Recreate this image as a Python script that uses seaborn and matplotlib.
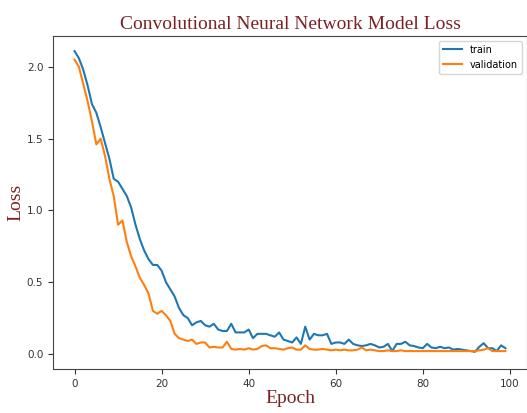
import numpy as np
import pandas as pd
import matplotlib
matplotlib.use("Agg")
import matplotlib.pyplot as plt
import seaborn as sns

train_loss = [
    2.11, 2.06, 1.98, 1.87, 1.74, 1.68, 1.58, 1.47, 1.36, 1.22,
    1.20, 1.15, 1.10, 1.02, 0.90, 0.80, 0.72, 0.66, 0.62, 0.62,
    0.58, 0.50, 0.45, 0.40, 0.32, 0.27, 0.25, 0.20, 0.22, 0.23,
    0.20, 0.19, 0.21, 0.17, 0.16, 0.16, 0.21, 0.15, 0.15, 0.15,
    0.17, 0.11, 0.14, 0.14, 0.14, 0.13, 0.12, 0.15, 0.10, 0.09,
    0.08, 0.115, 0.07, 0.19, 0.10, 0.14, 0.13, 0.13, 0.14, 0.07,
    0.08, 0.08, 0.07, 0.10, 0.07, 0.06, 0.055, 0.06, 0.07, 0.06,
    0.045, 0.05, 0.07, 0.02, 0.07, 0.07, 0.085, 0.06, 0.055, 0.045,
    0.04, 0.07, 0.045, 0.04, 0.05, 0.04, 0.045, 0.03, 0.035, 0.03,
    0.025, 0.02, 0.015, 0.05, 0.075, 0.04, 0.04, 0.02, 0.06, 0.04,
]
val_loss = [
    2.05, 2.00, 1.88, 1.76, 1.62, 1.46, 1.50, 1.38, 1.22, 1.10,
    0.90, 0.93, 0.78, 0.68, 0.61, 0.53, 0.48, 0.42, 0.30, 0.28,
    0.30, 0.27, 0.23, 0.14, 0.11, 0.10, 0.09, 0.10, 0.07, 0.08,
    0.08, 0.045, 0.05, 0.045, 0.045, 0.085, 0.035, 0.03, 0.035, 0.03,
    0.04, 0.03, 0.035, 0.055, 0.06, 0.04, 0.04, 0.035, 0.03, 0.04,
    0.045, 0.03, 0.03, 0.06, 0.035, 0.03, 0.03, 0.035, 0.03, 0.025,
    0.03, 0.025, 0.03, 0.025, 0.025, 0.03, 0.045, 0.025, 0.03, 0.025,
    0.02, 0.02, 0.025, 0.02, 0.02, 0.025, 0.02, 0.02, 0.02, 0.02,
    0.02, 0.02, 0.02, 0.02, 0.02, 0.02, 0.02, 0.02, 0.02, 0.02,
    0.02, 0.02, 0.02, 0.025, 0.03, 0.04, 0.02, 0.02, 0.02, 0.02,
]
series_names = ["train", "validation"]
x_ticks = [0, 20, 40, 60, 80, 100]
y_ticks = [0.0, 0.5, 1.0, 1.5, 2.0]

epochs = list(range(len(train_loss)))
df = pd.DataFrame({
    "Epoch": epochs * 2,
    "Loss": train_loss + val_loss,
    "series": [series_names[0]] * len(train_loss) + [series_names[1]] * len(val_loss),
})

fig = plt.figure(figsize=(5.27, 4.13), dpi=100)
ax = fig.add_axes([0.1006, 0.1065, 0.8994, 0.8063])
sns.lineplot(data=df, x="Epoch", y="Loss", hue="series",
             palette=["#1f77b4", "#ff7f0e"], linewidth=1.5, ax=ax)

title_color = "#7b2222"
serif = "Liberation Serif"
ax.set_title("Convolutional Neural Network Model Loss", family=serif,
             color=title_color, fontsize=14, pad=5)
ax.set_xlabel("Epoch", family=serif, color=title_color, fontsize=14, labelpad=1)
ax.set_ylabel("Loss", family=serif, color=title_color, fontsize=14, labelpad=2)
ax.set_xticks(x_ticks)
ax.set_yticks(y_ticks)
ax.set_xticklabels([str(t) for t in x_ticks])
ax.set_yticklabels([f"{t:.1f}" for t in y_ticks])
ax.tick_params(labelsize=7.5, colors="#333333")
ax.set_xlim(-4.95, 103.95)
ax.set_ylim(-0.105, 2.215)
for s in ax.spines.values():
    s.set_color("#444444")

leg = ax.legend(loc="upper right", fontsize=7, frameon=True, title=None)
leg.get_frame().set_edgecolor("#cccccc")

fig.savefig("out.png", dpi=100)
